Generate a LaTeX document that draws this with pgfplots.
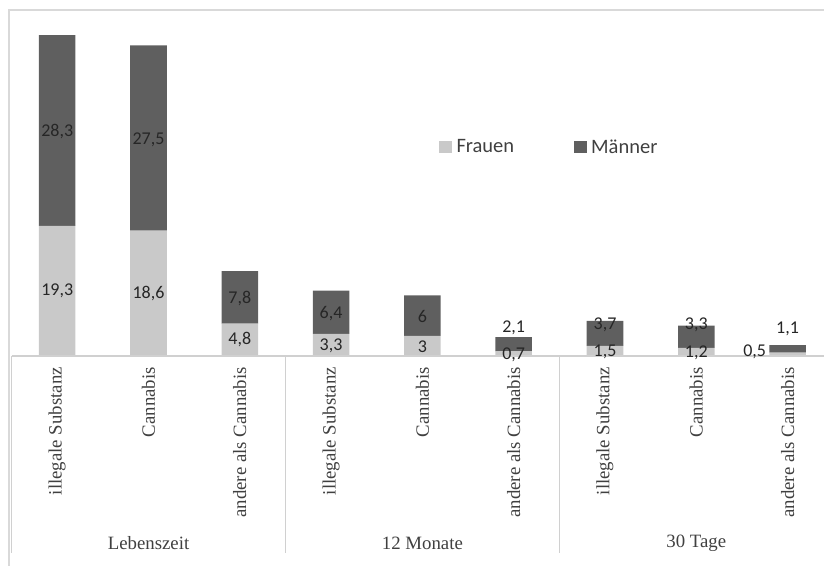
\documentclass[border=0pt]{standalone}
\usepackage{fontspec}
\setmainfont{Liberation Serif}
\newfontfamily\calibri{Carlito}
\usepackage{pgfplots}
\pgfplotsset{compat=1.18}
\usepackage{pgfplotstable}
\definecolor{lightbar}{HTML}{C9C9C9}
\definecolor{darkbar}{HTML}{5F5F5F}
\definecolor{txt}{HTML}{404040}
\definecolor{lab}{HTML}{262626}
\definecolor{gridgray}{HTML}{D0D0D0}
\definecolor{bordergray}{HTML}{D9D9D9}

\pgfplotstableread{
x F M
0 19.3 28.3
1 18.6 27.5
2 4.8 7.8
3 3.3 6.4
4 3.0 6.0
5 0.7 2.1
6 1.5 3.7
7 1.2 3.3
8 0.5 1.1
}\bars

\pgfplotstableread{
x y lab
0 9.65 19,3
1 9.3 18,6
2 2.4 4,8
3 1.55 3,3
4 1.45 3
5 0.2 0,7
6 0.55 1,5
7 0.45 1,2
7.64 0.64 0,5
0 33.3 28,3
1 32.1 27,5
2 8.5 7,8
3 6.3 6,4
4 5.85 6
5 4.2 2,1
6 4.6 3,7
7 4.6 3,3
8 3.96 1,1
}\labs

\begin{document}
\begin{tikzpicture}
\useasboundingbox (0,0) rectangle (824bp,566bp);
\clip (0,0) rectangle (824bp,566bp);
\draw[bordergray, line width=1.3bp] (9bp,-5bp) -- (9bp,556bp) -- (830bp,556bp);
\pgfplotsset{mygeom/.style={scale only axis, width=821.7bp, height=337bp,
  xmin=-0.5, xmax=8.5, ymin=0, ymax=50, enlargelimits=false,
  at={(11.55bp,210bp)}, anchor=south west, clip=false}}
\begin{axis}[mygeom, ybar stacked, bar width=0.4,
  axis y line=none, axis x line*=bottom, axis line style={draw=none},
  tick style={draw=none}, major tick length=0pt,
  xtick=data,
  xticklabels={illegale Substanz, Cannabis, andere als Cannabis, illegale Substanz, Cannabis, andere als Cannabis, illegale Substanz, Cannabis, andere als Cannabis},
  xticklabel style={rotate=90, anchor=east, inner sep=0pt, text=txt, font=\fontsize{18.8bp}{20bp}\selectfont},
  xticklabel shift=11bp,
  legend image code/.code={\fill[#1] (0bp,-6bp) rectangle (13bp,6bp);},
  legend style={at={(0.5202,0.620)}, anchor=west, draw=none, fill=none,
    inner sep=0pt, outer sep=0pt, nodes={inner sep=1.5bp, text=txt},
    font=\calibri\fontsize{20.5bp}{22bp}\selectfont,
    /tikz/every odd column/.append style={column sep=3bp},
    /tikz/every even column/.append style={column sep=58bp}},
  legend columns=2, legend cell align=left]
\addplot[fill=lightbar, draw=none] table[x=x,y=F]{\bars};
\addplot[fill=darkbar, draw=none] table[x=x,y=M]{\bars};
\legend{Frauen, Männer}
\end{axis}
\begin{axis}[mygeom, hide axis]
\addplot[only marks, mark=none, nodes near coords, point meta=explicit symbolic,
  nodes near coords style={anchor=center, inner sep=0pt, text=lab, font=\calibri\fontsize{18bp}{20bp}\selectfont}]
  table[x=x,y=y,meta=lab]{\labs};
\draw[gridgray, line width=1.5bp] (axis cs:-0.5,0) -- (axis cs:8.5,0);
\draw[gridgray, line width=1.3bp] (axis cs:-0.5,0) -- ([yshift=-197bp]axis cs:-0.5,0);
\draw[gridgray, line width=1.3bp] (axis cs:2.5,0) -- ([yshift=-197bp]axis cs:2.5,0);
\draw[gridgray, line width=1.3bp] (axis cs:5.5,0) -- ([yshift=-197bp]axis cs:5.5,0);
\draw[gridgray, line width=1.3bp] (axis cs:8.5,0) -- ([yshift=-197bp]axis cs:8.5,0);
\node[text=txt, font=\fontsize{18.8bp}{20bp}\selectfont] at ([yshift=-187bp]axis cs:1,0) {Lebenszeit};
\node[text=txt, font=\fontsize{18.8bp}{20bp}\selectfont] at ([yshift=-187bp]axis cs:4,0) {12 Monate};
\node[text=txt, font=\fontsize{18.8bp}{20bp}\selectfont] at ([yshift=-187bp]axis cs:7,0) {30 Tage};
\end{axis}
\end{tikzpicture}
\end{document}
